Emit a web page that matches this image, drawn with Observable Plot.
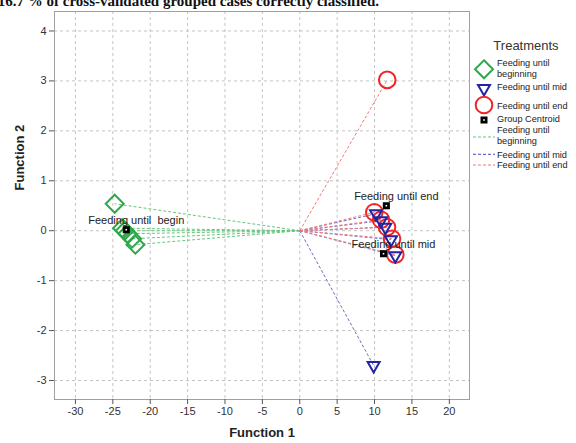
<!DOCTYPE html>
<html>
<head>
<meta charset="utf-8">
<script src="https://cdn.jsdelivr.net/npm/d3@7"></script>
<script src="https://cdn.jsdelivr.net/npm/@observablehq/plot@0.6"></script>
<style>
  body { margin: 0; background: white; }
  #wrap { position: relative; width: 576px; height: 443px; overflow: hidden; background: white; }
  #overlay { position: absolute; left: 0; top: 0; pointer-events: none; }
  #chart { position: absolute; left: 0; top: 0; }
</style>
</head>
<body>
<div id="wrap"><div id="chart"></div><svg id="overlay" width="576" height="443"></svg></div>
<script>
// ---- data ----
const beginF1 = [-24.75, -23.76, -23.4, -23.05, -22.42, -21.98];
const beginF2 = [0.54, 0.05, 0.0, -0.06, -0.16, -0.28];
const midF1 = [9.88, 10.2, 10.87, 11.44, 12.2, 12.78];
const midF2 = [-2.70, 0.34, 0.20, 0.07, -0.18, -0.50];
const endF1 = [11.7, 9.97, 10.87, 11.67, 12.34, 12.78];
const endF2 = [3.02, 0.37, 0.22, 0.07, -0.16, -0.48];
const centroidLabels = ["Feeding until  begin", "Feeding until mid", "Feeding until end"];
const centroidF1 = [-23.2, 11.2, 11.58];
const centroidF2 = [0.02, -0.46, 0.50];
const grandCentroid = [0, 0];
const xTicks = [-30, -25, -20, -15, -10, -5, 0, 5, 10, 15, 20];
const yTicks = [-3, -2, -1, 0, 1, 2, 3, 4];
const legendLabels = ["Feeding until beginning", "Feeding until mid", "Feeding until end", "Group Centroid"];

const green = "#2fa84c", blue = "#2323a6", red = "#f02525";
const greenL = "#66c67e", blueL = "#6d6dcc", redL = "#f27a7a";

const toRows = (a, b) => a.map((v, i) => ({f1: v, f2: b[i]}));
const begin = toRows(beginF1, beginF2);
const mid = toRows(midF1, midF2);
const end = toRows(endF1, endF2);
const centroids = centroidF1.map((v, i) => ({f1: v, f2: centroidF2[i], label: centroidLabels[i]}));

const linkOpts = (stroke) => ({
  x1: () => grandCentroid[0], y1: () => grandCentroid[1], x2: "f1", y2: "f2",
  stroke, strokeWidth: 1, strokeDasharray: "3,2"
});
const fmt = d => String(d);

const plot = Plot.plot({
  width: 476, height: 443,
  marginLeft: 54, marginRight: 7, marginTop: 11, marginBottom: 44,
  style: {fontFamily: "'Liberation Sans', Arial, sans-serif", background: "white"},
  x: {domain: [-32.8, 22.7]},
  y: {domain: [-3.38, 4.39]},
  marks: [
    Plot.gridX(xTicks, {stroke: "#c4c4c4", strokeOpacity: 1, strokeDasharray: "3,3"}),
    Plot.gridY(yTicks, {stroke: "#c4c4c4", strokeOpacity: 1, strokeDasharray: "3,3"}),
    Plot.frame({stroke: "#a0a0a0"}),
    Plot.axisX({ticks: xTicks, tickFormat: fmt, tickSize: 5, tickPadding: 3, fontSize: 11, label: null, color: "#333", stroke: "#555"}),
    Plot.axisY({ticks: yTicks, tickFormat: fmt, tickSize: 5, tickPadding: 3, fontSize: 11, label: null, color: "#333", stroke: "#555"}),
    Plot.text(["Function 1"], {frameAnchor: "bottom", dy: 37, fontSize: 13, fontWeight: "bold", fill: "#222"}),
    Plot.text(["Function 2"], {frameAnchor: "left", dx: -35, dy: -15, rotate: -90, fontSize: 13, fontWeight: "bold", fill: "#222"}),
    Plot.link(begin, linkOpts(greenL)),
    Plot.link(mid, linkOpts(blueL)),
    Plot.link(end, linkOpts(redL)),
    Plot.dot(begin, {x: "f1", y: "f2", symbol: "diamond2", r: 8.1, stroke: green, strokeWidth: 2, fill: "none"}),
    Plot.dot(end, {x: "f1", y: "f2", symbol: "circle", r: 8.3, stroke: red, strokeWidth: 2, fill: "none"}),
    Plot.dot(mid, {x: "f1", y: "f2", symbol: "triangle2", rotate: 180, r: 5.7, stroke: blue, strokeWidth: 2, fill: "none"}),
    Plot.dot(centroids, {x: "f1", y: "f2", symbol: "square", r: 4, fill: "black"}),
    Plot.dot(centroids, {x: "f1", y: "f2", symbol: "square", r: 0.9, fill: "white"}),
    Plot.text(centroids, {x: "f1", y: "f2", text: "label", dx: 10, dy: -9, fontSize: 11, fill: "#222"})
  ]
});
document.getElementById("chart").appendChild(plot);

// ---- overlay: clipped title and legend ----
const ov = d3.select("#overlay");
ov.append("text").attr("x", 379).attr("y", 6).attr("text-anchor", "end")
  .attr("font-family", "'Liberation Serif', 'Times New Roman', serif")
  .attr("font-weight", "bold").attr("font-size", 15).attr("fill", "#111")
  .text("c. 16.7 % of cross-validated grouped cases correctly classified.");

const lg = ov.append("g").attr("font-family", "'Liberation Sans', Arial, sans-serif").attr("fill", "#222");
lg.append("text").attr("x", 526).attr("y", 50).attr("text-anchor", "middle").attr("font-size", 13).attr("fill", "#333").text("Treatments");
const sx = 484, tx = 497, fs = 9.2;
const sym = (type, size) => d3.symbol(type, size)();
lg.append("path").attr("d", sym(d3.symbolDiamond2, Math.PI * 8.1 * 8.1)).attr("transform", `translate(${sx},69.3)`).attr("fill", "none").attr("stroke", green).attr("stroke-width", 2);
lg.append("path").attr("d", sym(d3.symbolTriangle2, Math.PI * 5.7 * 5.7)).attr("transform", `translate(${sx},88.5) rotate(180)`).attr("fill", "none").attr("stroke", blue).attr("stroke-width", 2);
lg.append("circle").attr("cx", sx).attr("cy", 105).attr("r", 8.3).attr("fill", "none").attr("stroke", red).attr("stroke-width", 2);
lg.append("rect").attr("x", sx - 3.5).attr("y", 116.5).attr("width", 7).attr("height", 7).attr("fill", "black");
lg.append("rect").attr("x", sx - 0.8).attr("y", 119.2).attr("width", 1.6).attr("height", 1.6).attr("fill", "white");
const lt = (y, s) => lg.append("text").attr("x", tx).attr("y", y).attr("font-size", fs).text(s);
lt(65.8, "Feeding until"); lt(76.6, "beginning");
lt(90, legendLabels[1]);
lt(108.5, legendLabels[2]);
lt(122, legendLabels[3]);
lt(133, "Feeding until"); lt(143.8, "beginning");
lt(157.6, legendLabels[1]);
lt(168.4, legendLabels[2]);
[[137, greenL], [154.3, blueL], [165, redL]].forEach(([y, c]) => {
  lg.append("line").attr("x1", 473).attr("x2", 495).attr("y1", y).attr("y2", y).attr("stroke", c).attr("stroke-width", 1.2).attr("stroke-dasharray", "3,2");
});
</script>
</body>
</html>
